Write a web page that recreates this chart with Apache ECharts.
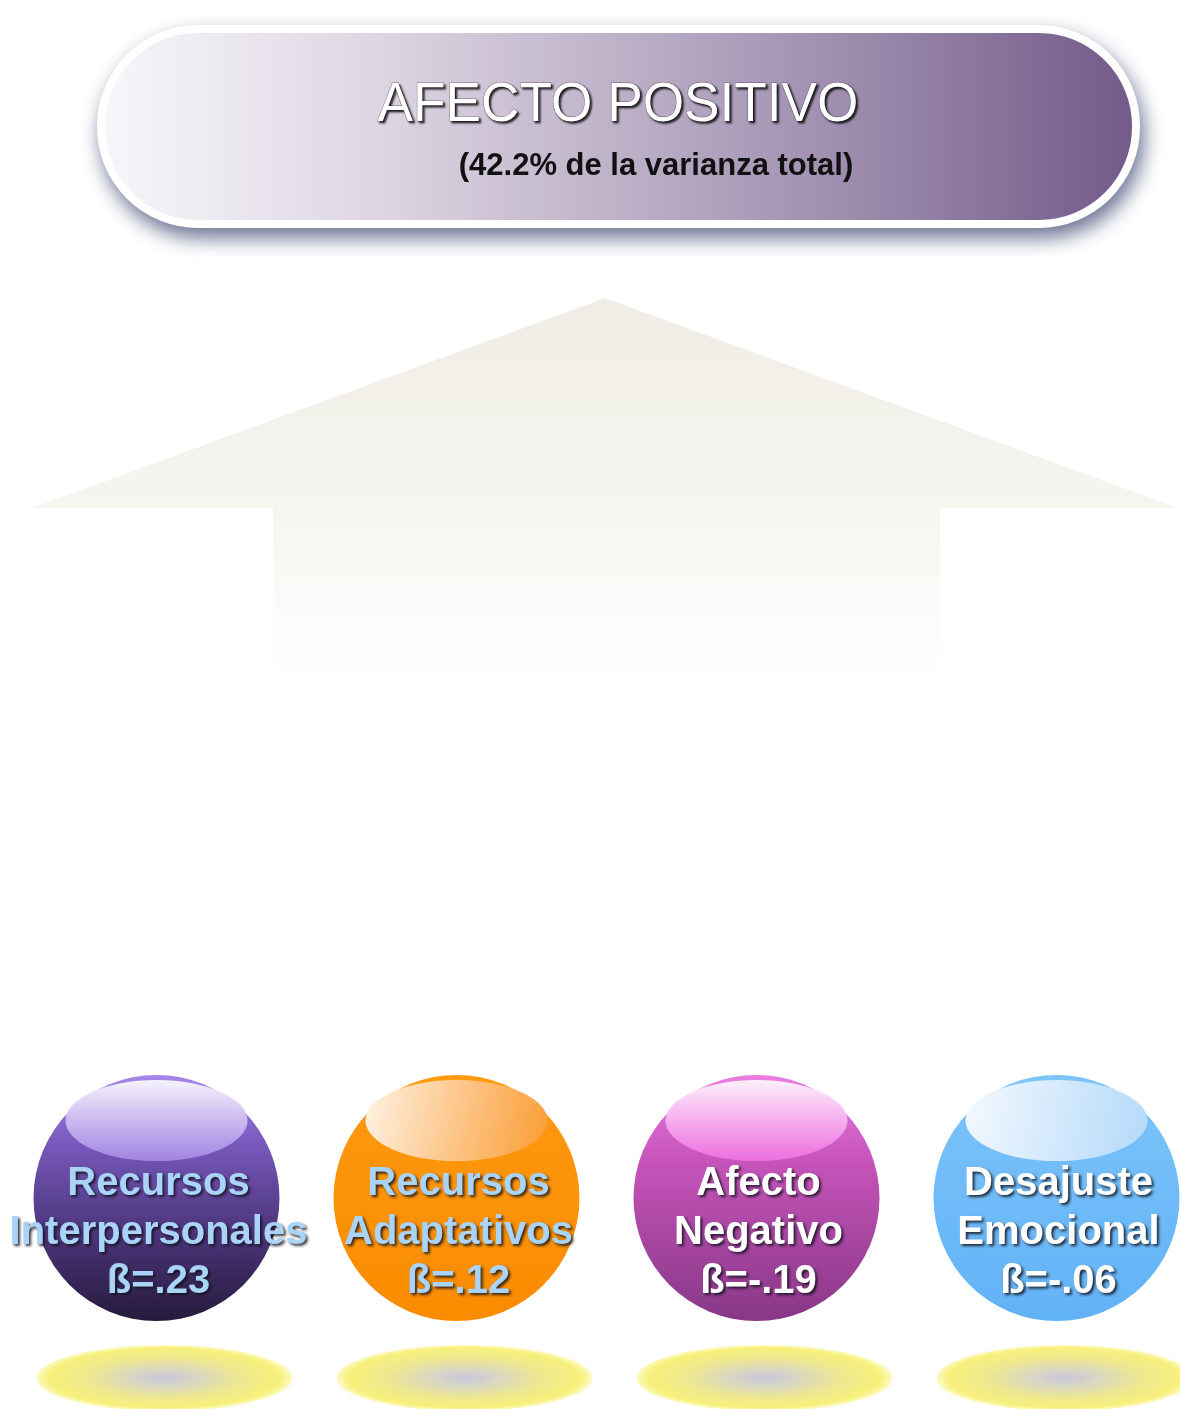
<!DOCTYPE html>
<html>
<head>
<meta charset="utf-8">
<script src="https://cdn.jsdelivr.net/npm/echarts@6/dist/echarts.min.js"></script>
<style>
  html, body { margin: 0; padding: 0; background: #ffffff; }
  #chart { width: 1180px; height: 1409px; }
</style>
</head>
<body>
<div id="chart"></div>
<script>
// Outcome and its explained variance
const titleText = 'AFECTO POSITIVO';
const subtitleText = '(42.2% de la varianza total)';

// Predictors and their standardized coefficients
const factors = ['Recursos\nInterpersonales', 'Recursos\nAdaptativos', 'Afecto\nNegativo', 'Desajuste\nEmocional'];
const betas = [0.23, 0.12, -0.19, -0.06];

// Look of each sphere (body shading, gloss cap, label colour)
const PALETTE = [
  {
    body: [[0, '#a788e8'], [0.3, '#7556b8'], [0.65, '#4a3478'], [1, '#261b3d']],
    gloss: { x: 0, y: 0, x2: 0, y2: 1, stops: [[0, '#f5f3fc'], [1, 'rgba(165,135,230,0.92)']] },
    text: '#a9d3f7'
  },
  {
    body: [[0, '#ff9a12'], [1, '#f98b00']],
    gloss: { x: 0, y: 0, x2: 1, y2: 0.5, stops: [[0, '#fff3e6'], [1, 'rgba(250,160,60,0.95)']] },
    text: '#a9d3f7'
  },
  {
    body: [[0, '#ea7ce2'], [0.35, '#c654ba'], [1, '#883787']],
    gloss: { x: 0, y: 0, x2: 0, y2: 1, stops: [[0, '#fdf1fb'], [1, 'rgba(240,112,226,0.92)']] },
    text: '#ffffff'
  },
  {
    body: [[0, '#7cc4fa'], [1, '#62b2f6']],
    gloss: { x: 0, y: 0, x2: 1, y2: 0.4, stops: [[0, '#f4f9fe'], [1, 'rgba(185,220,250,0.96)']] },
    text: '#ffffff'
  }
];

function betaLabel(b) {
  return 'ß=' + (b < 0 ? '-' : '') + Math.abs(b).toFixed(2).slice(1);
}

function linear(g) {
  return {
    type: 'linear', x: g.x, y: g.y, x2: g.x2, y2: g.y2,
    colorStops: g.stops.map(s => ({ offset: s[0], color: s[1] }))
  };
}

const chart = echarts.init(document.getElementById('chart'), null, { renderer: 'canvas' });

const option = {
  backgroundColor: '#ffffff',
  animation: false,
  grid: { left: 6.5, width: 1200, top: 1100, height: 196, outerBoundsMode: 'none', containLabel: false },
  xAxis: { type: 'category', data: factors, show: false, boundaryGap: true },
  yAxis: { type: 'value', min: -1, max: 1, show: false },
  graphic: [
    // Upward arrow behind everything
    {
      type: 'polygon',
      z: 0,
      shape: { points: [[605, 298], [1178, 508], [940, 508], [940, 680], [273, 680], [273, 508], [32, 508]] },
      style: {
        fill: {
          type: 'linear', x: 0, y: 0, x2: 0, y2: 1,
          colorStops: [
            { offset: 0, color: '#efede5' },
            { offset: 0.55, color: '#f6f5f0' },
            { offset: 1, color: '#ffffff' }
          ]
        }
      }
    },
    // Title pill: white frame with soft shadow
    {
      type: 'rect',
      z: 1,
      shape: { x: 97, y: 25, width: 1043, height: 203, r: 101 },
      style: {
        fill: '#ffffff',
        shadowBlur: 20,
        shadowOffsetX: 4,
        shadowOffsetY: 10,
        shadowColor: 'rgba(70,80,120,0.8)'
      }
    },
    {
      type: 'rect',
      z: 2,
      shape: { x: 105, y: 33, width: 1027, height: 187, r: 93 },
      style: {
        fill: {
          type: 'linear', x: 0, y: 0, x2: 1, y2: 0,
          colorStops: [
            { offset: 0, color: '#f7f6f9' },
            { offset: 0.25, color: '#dfd8e4' },
            { offset: 0.5, color: '#bdb1c8' },
            { offset: 0.75, color: '#9a88ab' },
            { offset: 1, color: '#735a8a' }
          ]
        }
      }
    },
    {
      type: 'text',
      z: 3,
      x: 618,
      y: 106,
      scaleX: 0.95,
      style: {
        text: titleText,
        x: 0, y: 0,
        fill: '#ffffff',
        stroke: 'rgba(40,30,50,0.55)',
        lineWidth: 1,
        fontSize: 56,
        fontFamily: '"Liberation Sans", Arial, sans-serif',
        align: 'center', verticalAlign: 'middle',
        textAlign: 'center', textVerticalAlign: 'middle',
        textShadowColor: 'rgba(0,0,0,0.8)',
        textShadowBlur: 2,
        textShadowOffsetX: 2,
        textShadowOffsetY: 2
      }
    },
    {
      type: 'text',
      z: 3,
      x: 656,
      y: 166,
      style: {
        text: subtitleText,
        x: 0, y: 0,
        fill: '#111111',
        fontSize: 31,
        fontWeight: 'bold',
        fontFamily: '"Liberation Sans", Arial, sans-serif',
        align: 'center', verticalAlign: 'middle',
        textAlign: 'center', textVerticalAlign: 'middle'
      }
    }
  ],
  series: [
    {
      type: 'custom',
      coordinateSystem: 'cartesian2d',
      encode: { x: 0, y: 1 },
      data: factors.map((name, i) => ({ name: name, value: [name, 0, betas[i]] })),
      renderItem: function (params, api) {
        const i = params.dataIndex;
        const p = api.coord([api.value(0), api.value(1)]);
        const cx = p[0], cy = p[1];
        const r = 123;
        const look = PALETTE[i];
        const label = factors[i] + '\n' + betaLabel(api.value(2));
        return {
          type: 'group',
          children: [
            // floor reflection
            {
              type: 'circle',
              x: cx + 8, y: cy + 180,
              scaleX: 128 / 33,
              shape: { cx: 0, cy: 0, r: 33 },
              style: {
                fill: {
                  type: 'radial', x: 0.5, y: 0.5, r: 0.5,
                  colorStops: [
                    { offset: 0, color: '#c8c7d9' },
                    { offset: 0.25, color: '#d8d6c4' },
                    { offset: 0.6, color: '#eee890' },
                    { offset: 0.9, color: '#f7f07b' },
                    { offset: 1, color: 'rgba(250,242,120,0.45)' }
                  ]
                }
              }
            },
            // sphere body
            {
              type: 'circle',
              shape: { cx: cx, cy: cy, r: r },
              style: {
                fill: linear({ x: 0, y: 0, x2: 0, y2: 1, stops: look.body })
              }
            },
            // gloss cap
            {
              type: 'ellipse',
              shape: { cx: cx, cy: cy - 0.63 * r, rx: 0.74 * r, ry: 0.33 * r },
              style: { fill: linear(look.gloss) }
            },
            // name and coefficient
            {
              type: 'text',
              style: {
                text: label,
                x: cx + 2, y: cy + 35,
                fill: look.text,
                fontSize: 40,
                fontWeight: 'bold',
                fontFamily: '"Liberation Sans", Arial, sans-serif',
                lineHeight: 49,
                align: 'center', verticalAlign: 'middle',
                textShadowColor: 'rgba(15,15,25,0.85)',
                textShadowBlur: 3,
                textShadowOffsetX: 2,
                textShadowOffsetY: 2
              }
            }
          ]
        };
      }
    }
  ]
};

chart.setOption(option);
</script>
</body>
</html>
